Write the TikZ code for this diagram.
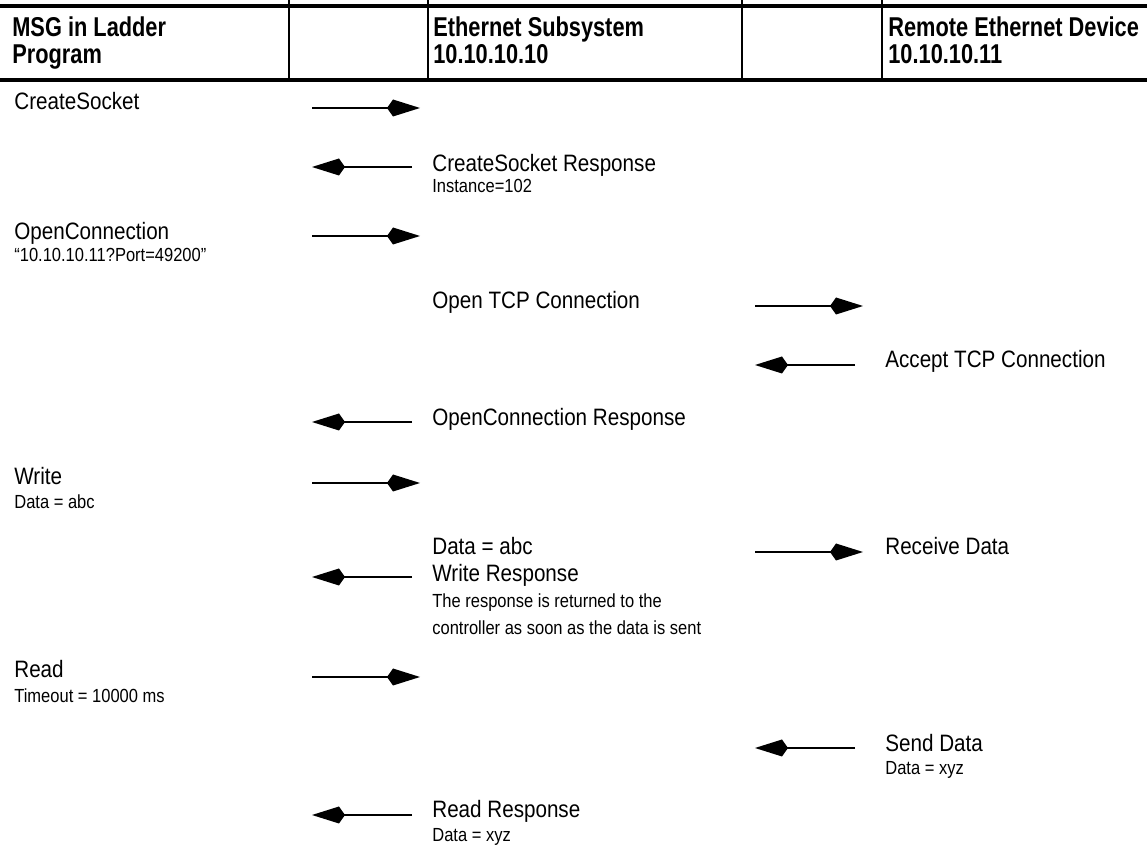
\documentclass[tikz,border=0pt]{standalone}
\usepackage{fontspec}
\setmainfont{Liberation Sans}
\newfontfamily\condfont[FakeStretch=0.87]{Liberation Sans}
\newfontfamily\headfont[FakeStretch=0.8]{Liberation Sans}
\usetikzlibrary{arrows.meta, positioning}

\begin{document}
\begin{tikzpicture}[
        % Repère en pixels de l'image
        x = 0.02cm, y = -0.02cm,
        % Style des titres de colonnes
        head/.style = {
            font=\headfont\bfseries\fontsize{15.5}{15.5}\selectfont,
            anchor=base west,
            inner sep=0pt
        },
        % Style des messages
        msg/.style = {
            font=\condfont\fontsize{13.5}{13.5}\selectfont,
            anchor=base west,
            inner sep=0pt
        },
        % Style des précisions sous les messages
        note/.style = {
            font=\condfont\fontsize{10.8}{10.8}\selectfont,
            anchor=base west,
            inner sep=0pt
        },
        % Style des flèches
        arrow/.style = {
            -{Kite[length=0.66cm, width=0.34cm, inset=0.12cm]},
            line width=1.1pt
        },
        rule/.style = {line width=2.3pt},
        sep/.style = {line width=0.8pt}
    ]

        \useasboundingbox (0,0) rectangle (1147,857);

        % 1. En-tête (tableau)
        \draw [rule] (0,6) -- (1147,6);
        \draw [rule] (0,80) -- (1147,80);
        \foreach \xs in {289, 428, 742, 882}
            \draw [sep] (\xs,0) -- (\xs,80);

        \node (hmsg)  [head] at (12,37)  {MSG in Ladder};
        \node (hprog) [head] at (12,64)  {Program};
        \node (heth)  [head] at (433,37) {Ethernet Subsystem};
        \node (hethip)[head] at (433,64) {10.10.10.10};
        \node (hrem)  [head] at (888,37) {Remote Ethernet Device};
        \node (hremip)[head] at (888,64) {10.10.10.11};

        % 2. Messages (Nodes)
        \node (create)    [msg]  at (14,110)  {CreateSocket};
        \node (createrep) [msg]  at (432,172) {CreateSocket Response};
        \node (inst)      [note] at (432,193) {Instance=102};
        \node (open)      [msg]  at (14,240)  {OpenConnection};
        \node (port)      [note] at (14,262)  {“10.10.10.11?Port=49200”};
        \node (tcp)       [msg]  at (432,309) {Open TCP Connection};
        \node (accept)    [msg]  at (885,368) {Accept TCP Connection};
        \node (openrep)   [msg]  at (432,426) {OpenConnection Response};
        \node (write)     [msg]  at (14,485)  {Write};
        \node (wdata)     [note] at (14,509)  {Data = abc};
        \node (sdata)     [msg]  at (432,555) {Data = abc};
        \node (recv)      [msg]  at (885,555) {Receive Data};
        \node (writerep)  [msg]  at (432,582) {Write Response};
        \node (wnote)     [note] at (432,608) {The response is returned to the};
        \node (wnotetwo)  [note] at (432,635) {controller as soon as the data is sent};
        \node (read)      [msg]  at (14,678)  {Read};
        \node (tout)      [note] at (14,703)  {Timeout = 10000 ms};
        \node (send)      [msg]  at (885,752) {Send Data};
        \node (sendxyz)   [note] at (885,775) {Data = xyz};
        \node (readrep)   [msg]  at (432,818) {Read Response};
        \node (readxyz)   [note] at (432,842) {Data = xyz};

        % 3. Extrémités des flèches
        \coordinate (create-a)    at (312,108);  \coordinate (create-b)    at (420,108);
        \coordinate (createrep-a) at (412,167);  \coordinate (createrep-b) at (312,167);
        \coordinate (open-a)      at (312,236);  \coordinate (open-b)      at (420,236);
        \coordinate (tcp-a)       at (755,306);  \coordinate (tcp-b)       at (863,306);
        \coordinate (accept-a)    at (855,365);  \coordinate (accept-b)    at (755,365);
        \coordinate (openrep-a)   at (412,422);  \coordinate (openrep-b)   at (312,422);
        \coordinate (write-a)     at (312,483);  \coordinate (write-b)     at (420,483);
        \coordinate (recv-a)      at (755,552);  \coordinate (recv-b)      at (863,552);
        \coordinate (writerep-a)  at (412,577);  \coordinate (writerep-b)  at (312,577);
        \coordinate (read-a)      at (312,677);  \coordinate (read-b)      at (420,677);
        \coordinate (send-a)      at (855,748);  \coordinate (send-b)      at (755,748);
        \coordinate (readrep-a)   at (412,815);  \coordinate (readrep-b)   at (312,815);

        % 4. Tracé des flèches (Arrows)
        \foreach \m in {create, createrep, open, tcp, accept, openrep,
                        write, recv, writerep, read, send, readrep}
            \draw [arrow] (\m-a) -- (\m-b);

    \end{tikzpicture}
\end{document}
